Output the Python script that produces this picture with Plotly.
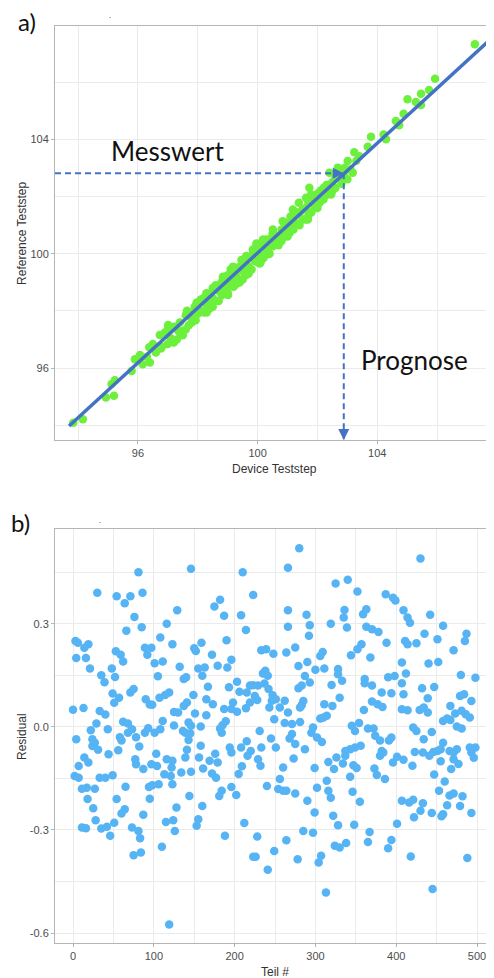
import plotly.graph_objects as go

# ---------------- Panel a: Device vs Reference ----------------
device = [
    93.84, 94.16, 94.93, 95.2, 95.12, 95.23, 95.79, 95.9, 96.16, 96.07,
    96.38, 96.77, 96.73, 97.01, 97.18, 97.34, 97.64, 97.96, 97.93, 98.4,
    98.29, 98.57, 98.84, 99.01, 99.18, 99.18, 99.46, 99.62, 99.84, 100.07,
    99.96,
    107.26, 105.93, 105.73, 105.46, 105.01, 105.29, 105.46, 104.88, 104.62, 104.73,
    103.79, 104.21, 104.29, 103.68, 103.23, 103.4, 103.01, 103.18, 102.68, 102.4,
    102.84, 102.46, 102.07, 101.73, 101.79, 101.62, 101.68, 101.38, 101.18, 100.84,
    101.07, 100.51, 100.46, 100.18, 99.84, 99.62, 100.07, 100.34, 100.73,
    96.5, 96.6, 96.9, 97.0, 97.1, 97.2, 97.3, 97.4, 97.5, 97.5,
    97.6, 97.7, 97.8, 97.8, 97.9, 98.0, 98.0, 98.1, 98.2, 98.2,
    98.3, 98.4, 98.4, 98.5, 98.6, 98.6, 98.7, 98.8, 98.8, 98.9,
    99.0, 99.0, 99.1, 99.2, 99.2, 99.3, 99.4, 99.4, 99.5, 99.6,
    99.6, 99.7, 99.8, 99.8, 99.9, 100.0, 100.0, 100.1, 100.2, 100.2,
    100.3, 100.4, 100.5, 100.6, 100.6, 100.7, 100.8, 100.9, 101.0, 101.0,
    101.1, 101.2, 101.3, 101.4, 101.5, 101.6, 101.7, 101.8, 101.9, 102.0,
    102.1, 102.2, 102.3, 102.5, 102.6, 102.7, 102.9, 103.0,
    96.3, 96.4, 96.8, 97.0, 97.2, 97.4, 97.6, 97.7, 97.9, 98.1,
    98.3, 98.5, 98.5, 98.7, 98.9, 99.0, 99.1, 99.3, 99.5, 99.5,
    99.7, 99.9, 100.1, 100.3, 100.4, 100.5, 100.7, 100.8, 100.9, 101.0,
    101.1, 101.2, 101.3, 101.4, 101.5, 101.6, 101.7, 101.8, 101.9, 102.0,
    102.1, 102.2, 102.3, 102.4, 102.5, 102.6, 102.8, 102.9, 103.1, 103.3,
]
reference = [
    94.09, 94.22, 94.98, 95.04, 95.45, 95.58, 95.9, 96.31, 96.14, 96.46,
    96.73, 96.69, 97.16, 97.51, 96.98, 97.33, 98.01, 98.29, 97.68, 98.09,
    98.62, 98.85, 99.2, 98.56, 98.96, 99.55, 99.78, 99.31, 100.01, 99.66,
    100.36,
    107.32, 106.12, 105.72, 105.59, 105.4, 105.3, 105.2, 104.89, 104.64, 104.49,
    104.09, 104.17, 104.0, 103.74, 103.55, 103.41, 103.24, 102.83, 103.01, 102.83,
    102.66, 102.07, 101.78, 102.31, 102.07, 101.96, 101.2, 101.78, 101.55, 101.14,
    100.73, 100.85, 100.27, 100.5, 100.15, 99.92, 99.8, 99.98, 100.62,
    96.85, 96.55, 97.25, 96.85, 97.05, 97.45, 97.0, 97.6, 97.3, 97.15,
    97.85, 97.5, 97.75, 97.6, 98.15, 97.9, 98.3, 98.0, 98.45, 97.95,
    98.2, 98.6, 98.3, 98.45, 98.9, 98.35, 98.7, 98.55, 99.0, 98.8,
    99.25, 98.9, 99.1, 98.85, 99.35, 99.2, 99.55, 99.0, 99.4, 99.7,
    99.25, 99.55, 99.9, 99.45, 99.75, 100.2, 99.7, 99.95, 100.3, 99.85,
    100.1, 100.5, 100.25, 100.65, 100.35, 100.5, 100.85, 100.6, 101.05, 100.75,
    100.95, 101.25, 101.05, 101.4, 101.2, 101.6, 101.35, 101.9, 101.65, 102.1,
    101.85, 102.3, 102.05, 102.5, 102.3, 102.7, 102.85, 102.6,
    96.4, 96.2, 96.75, 97.35, 96.9, 97.25, 97.35, 97.95, 97.7, 98.4,
    97.95, 98.8, 98.15, 98.35, 99.15, 98.65, 99.45, 98.95, 99.75, 99.1,
    99.3, 100.1, 99.7, 100.5, 100.0, 100.7, 100.3, 100.45, 101.1, 100.6,
    101.3, 100.85, 101.45, 101.0, 101.55, 101.2, 101.8, 101.45, 102.0, 101.6,
    102.2, 101.9, 102.4, 102.1, 102.2, 102.65, 102.45, 103.0, 102.95, 103.25,
]
fit_device = [93.7, 108.2]
fit_reference = [93.98, 107.9]
arrow_device = 102.88
arrow_reference = 102.81
a_ticks = [96, 100, 104]
a_tick_text = ["96", "100", "104"]
a_minor = [94, 98, 102, 106]

# ---------------- Panel b: Residuals ----------------
teil = [
    81, 30, 54, 71, 86, 64, 76, 85, 66, 116,
    108, 3, 6, 19, 14, 4, 16, 21, 53, 59,
    62, 89, 97, 92, 101, 111, 123, 105, 35, 39,
    48, 52, 49, 57, 51, 71, 75, 90, 98, 95,
    107, 114, 119, 125, 0, 13, 33, 40, 29, 22,
    43, 62, 68, 73, 68, 78, 89, 93, 101, 108,
    111, 125, 4, 58, 60, 24, 27, 24, 31, 44,
    56, 82, 103, 77, 78, 87, 97, 104, 116, 123,
    122, 14, 19, 7, 2, 7, 33, 40, 49, 113,
    121, 123, 11, 17, 27, 65, 94, 98, 106, 18,
    54, 25, 64, 60, 95, 87, 28, 35, 42, 46,
    51, 11, 16, 73, 81, 83, 75, 84, 110, 115,
    124, 126, 119,
    146, 210, 223, 182, 175, 187, 129, 208, 214, 159,
    150, 152, 172, 190, 196, 191, 179, 132, 155, 163,
    160, 137, 140, 167, 149, 165, 173, 193, 203, 233,
    239, 248, 238, 241, 235, 206, 219, 223, 229, 237,
    215, 225, 219, 228, 242, 247, 251, 246, 243, 256,
    262, 266, 198, 196, 187, 203, 214, 130, 137, 141,
    151, 165, 143, 146, 136, 139, 145, 158, 143, 185,
    182, 189, 184, 231, 249, 245, 251, 262, 268, 158,
    141, 139, 156, 176, 179, 169, 161, 194, 196, 208,
    215, 220, 216, 233, 229, 232, 209, 205, 134, 146,
    172, 177, 184, 181, 196, 202, 240, 256, 254, 260,
    264, 260, 144, 160, 128, 155, 153, 188, 212, 228,
    223, 226, 249, 241, 264,
    280, 266, 325, 340, 352, 387, 396, 399, 266, 289,
    293, 266, 292, 319, 336, 335, 339, 359, 363, 363,
    370, 378, 388, 275, 264, 279, 290, 306, 309, 300,
    311, 328, 328, 333, 344, 352, 357, 368, 287, 293,
    279, 283, 320, 330, 361, 361, 370, 382, 394, 390,
    398, 370, 377, 383, 360, 283, 285, 281, 311, 321,
    306, 310, 314, 271, 281, 297, 295, 271, 275, 302,
    308, 287, 273, 345, 349, 354, 356, 349, 343, 337,
    337, 334, 326, 316, 323, 347, 351, 343, 365, 372,
    374, 380, 391, 394, 382, 380, 384, 396, 401, 373,
    376, 386, 299, 302, 314, 316, 319, 275, 290, 299,
    346, 355, 322, 328, 348, 401, 285, 297, 324, 330,
    338, 367, 365, 394, 390, 278, 307, 304, 313,
    430, 409, 414, 417, 442, 458, 435, 451, 487, 485,
    471, 411, 414, 425, 407, 440, 452, 412, 480, 498,
    407, 432, 447, 409, 439, 479, 484, 493, 407, 414,
    429, 434, 439, 467, 458, 463, 467, 473, 481, 486,
    491, 475, 481, 421, 425, 434, 444, 458, 423, 433,
    441, 446, 451, 455, 455, 466, 471, 475, 471, 477,
    491, 498, 493, 496, 409, 420, 447, 460, 468, 453,
    466, 471, 482, 407, 416, 421, 433, 463, 479, 430,
    444, 458, 456, 422, 493, 418, 488, 445,
]
residual = [
    0.45, 0.39, 0.38, 0.38, 0.39, 0.36, 0.32, 0.29, 0.28, 0.30,
    0.26, 0.25, 0.245, 0.24, 0.23, 0.20, 0.20, 0.17, 0.22, 0.21,
    0.19, 0.23, 0.23, 0.21, 0.185, 0.19, 0.24, 0.147, 0.15, 0.13,
    0.17, 0.145, 0.097, 0.085, 0.07, 0.10, 0.11, 0.08, 0.064, 0.065,
    0.085, 0.093, 0.10, 0.043, 0.05, 0.055, 0.046, 0.036, 0.01, -0.01,
    -0.007, 0.015, 0.01, -0.007, -0.017, -0.03, -0.017, -0.004, -0.017, -0.007,
    0.017, 0.004, -0.036, -0.03, -0.04, -0.036, -0.046, -0.056, -0.067, -0.08,
    -0.068, -0.057, -0.078, -0.094, -0.109, -0.123, -0.109, -0.114, -0.094, -0.099,
    -0.118, -0.089, -0.104, -0.114, -0.143, -0.148, -0.148, -0.148, -0.141, -0.138,
    -0.143, -0.167, -0.18, -0.177, -0.18, -0.174, -0.175, -0.17, -0.167, -0.21,
    -0.21, -0.237, -0.24, -0.252, -0.209, -0.256, -0.272, -0.296, -0.291, -0.317,
    -0.279, -0.293, -0.295, -0.293, -0.303, -0.324, -0.374, -0.366, -0.349, -0.277,
    -0.272, -0.303, -0.575,
    0.46, 0.45, 0.384, 0.37, 0.35, 0.323, 0.339, 0.325, 0.282, 0.245,
    0.229, 0.221, 0.21, 0.252, 0.195, 0.173, 0.178, 0.175, 0.17, 0.173,
    0.149, 0.139, 0.144, 0.117, 0.093, 0.08, 0.066, 0.115, 0.131, 0.223,
    0.226, 0.213, 0.163, 0.149, 0.155, 0.102, 0.12, 0.121, 0.12, 0.126,
    0.10, 0.09, 0.071, 0.078, 0.11, 0.092, 0.08, 0.076, 0.056, 0.056,
    0.076, 0.042, 0.071, 0.052, 0.052, 0.044, 0.054, 0.042, 0.061, 0.071,
    0.039, 0.034, 0.013, 0.003, -0.012, -0.017, -0.019, 0.001, -0.038, 0.005,
    -0.005, 0.016, -0.017, -0.012, 0.022, -0.034, -0.06, 0.011, -0.034, -0.055,
    -0.067, -0.089, -0.089, -0.078, -0.104, -0.099, -0.121, -0.06, -0.075, -0.06,
    -0.042, -0.07, -0.084, -0.06, -0.094, -0.113, -0.115, -0.137, -0.133, -0.131,
    -0.136, -0.148, -0.186, -0.201, -0.175, -0.198, -0.172, -0.152, -0.181, -0.186,
    -0.186, -0.118, -0.201, -0.23, -0.235, -0.269, -0.288, -0.317, -0.28, -0.319,
    -0.378, -0.378, -0.361, -0.416, -0.33,
    0.52, 0.463, 0.417, 0.428, 0.394, 0.386, 0.376, 0.368, 0.339, 0.326,
    0.296, 0.291, 0.265, 0.30, 0.34, 0.318, 0.289, 0.328, 0.342, 0.291,
    0.284, 0.276, 0.245, 0.231, 0.216, 0.177, 0.189, 0.206, 0.218, 0.166,
    0.17, 0.168, 0.153, 0.134, 0.208, 0.226, 0.24, 0.202, 0.148, 0.129,
    0.112, 0.12, 0.122, 0.085, 0.139, 0.127, 0.12, 0.10, 0.098, 0.144,
    0.148, 0.074, 0.066, 0.058, 0.049, 0.063, 0.075, 0.056, 0.066, 0.061,
    0.024, 0.027, 0.032, 0.008, 0.014, -0.002, -0.017, -0.021, -0.05, -0.031,
    -0.044, -0.065, -0.092, 0.003, -0.012, 0.011, -0.055, -0.06, -0.065, -0.07,
    -0.084, -0.107, -0.089, -0.102, -0.123, -0.112, -0.12, -0.145, -0.005, -0.005,
    -0.026, -0.04, -0.04, -0.031, -0.07, -0.084, -0.075, -0.104, -0.087, -0.121,
    -0.14, -0.152, -0.12, -0.177, -0.157, -0.186, -0.206, -0.194, -0.215, -0.249,
    -0.189, -0.218, -0.259, -0.286, -0.285, -0.282, -0.303, -0.308, -0.346, -0.351,
    -0.338, -0.306, -0.335, -0.329, -0.353, -0.385, -0.375, -0.395, -0.482,
    0.49, 0.339, 0.318, 0.303, 0.326, 0.294, 0.271, 0.255, 0.271, 0.25,
    0.223, 0.25, 0.24, 0.243, 0.187, 0.184, 0.189, 0.155, 0.151, 0.143,
    0.127, 0.112, 0.116, 0.095, 0.083, 0.09, 0.095, 0.075, 0.051, 0.048,
    0.049, 0.056, 0.042, 0.061, 0.017, 0.024, 0.02, 0.039, 0.047, 0.037,
    0.027, 0.001, -0.005, -0.002, -0.012, -0.036, -0.015, -0.046, -0.073, -0.075,
    -0.084, -0.073, -0.07, -0.065, -0.1, -0.07, -0.075, -0.065, -0.094, -0.108,
    -0.06, -0.06, -0.075, -0.09, -0.096, -0.113, -0.139, -0.159, -0.123, -0.186,
    -0.2, -0.194, -0.202, -0.215, -0.22, -0.212, -0.222, -0.228, -0.23, -0.244,
    -0.251, -0.254, -0.26, -0.263, -0.251, -0.377, -0.382, -0.472,
]
b_ticks = [0, 100, 200, 300, 400, 500]
b_tick_text = ["0", "100", "200", "300", "400", "500"]
b_minor = [50, 150, 250, 350, 450]
r_ticks = [-0.6, -0.3, 0.0, 0.3]
r_tick_text = ["-0.6", "-0.3", "0.0", "0.3"]
r_minor = [-0.45, -0.15, 0.15, 0.45]

# ---------------- Styling ----------------
GREEN = "#6CF03C"
LBLUE = "#56B4F5"
BLUE = "#4472C4"
GRID = "#EBEBEB"
AXLINE = "#B5B5B5"
TICKFONT = dict(family="Liberation Sans, Arial", size=11, color="#4D4D4D")
TITLEFONT = dict(family="Liberation Sans, Arial", size=12, color="#333333")
BIGFONT = dict(family="Lato, Noto Sans", size=26, color="#111111")

a_xrange = [93.23, 107.9]
a_yrange = [93.49, 107.96]

fig = go.Figure()

fig.add_trace(go.Scatter(x=device, y=reference, mode="markers",
                         marker=dict(color=GREEN, size=8.5, line=dict(width=0)),
                         xaxis="x", yaxis="y", hoverinfo="skip"))
fig.add_trace(go.Scatter(x=fit_device, y=fit_reference, mode="lines",
                         line=dict(color=BLUE, width=3.5),
                         xaxis="x", yaxis="y", hoverinfo="skip"))
# dashed guide lines
fig.add_trace(go.Scatter(x=[a_xrange[0], arrow_device], y=[arrow_reference, arrow_reference],
                         mode="lines", line=dict(color=BLUE, width=2, dash="6px,4px"),
                         xaxis="x", yaxis="y", hoverinfo="skip"))
fig.add_trace(go.Scatter(x=[arrow_device, arrow_device], y=[arrow_reference, a_yrange[0]],
                         mode="lines", line=dict(color=BLUE, width=2, dash="6px,4px"),
                         xaxis="x", yaxis="y", hoverinfo="skip"))

fig.add_trace(go.Scatter(x=teil, y=residual, mode="markers",
                         marker=dict(color=LBLUE, size=8.5, line=dict(width=0)),
                         xaxis="x2", yaxis="y2", hoverinfo="skip"))

annotations = [
    # arrowheads
    dict(x=arrow_device, y=arrow_reference, xref="x", yref="y", ax=-11, ay=0,
         text="", showarrow=True, arrowhead=2, arrowsize=1.1, arrowwidth=2,
         arrowcolor=BLUE, standoff=0),
    dict(x=arrow_device, y=a_yrange[0], xref="x", yref="y", ax=0, ay=-11,
         text="", showarrow=True, arrowhead=2, arrowsize=1.1, arrowwidth=2,
         arrowcolor=BLUE, standoff=0),
    dict(text="Messwert", x=0.256, y=0.8637, xref="paper", yref="paper",
         showarrow=False, font=BIGFONT, xanchor="center", yanchor="middle"),
    dict(text="Prognose", x=0.819, y=0.636, xref="paper", yref="paper",
         showarrow=False, font=BIGFONT, xanchor="center", yanchor="middle"),
    dict(text="a)", x=-0.064, y=1.0047, xref="paper", yref="paper",
         showarrow=False, font=dict(family="Lato, Noto Sans", size=24, color="#111111"),
         xanchor="center", yanchor="middle"),
    dict(text="b)", x=-0.0775, y=0.459, xref="paper", yref="paper",
         showarrow=False, font=dict(family="Lato, Noto Sans", size=24, color="#111111"),
         xanchor="center", yanchor="middle"),
    dict(text=".", x=0.125, y=1.012, xref="paper", yref="paper",
         showarrow=False, font=dict(size=8, color="#333"), xanchor="center", yanchor="middle"),
    dict(text=".", x=0.1025, y=0.462, xref="paper", yref="paper",
         showarrow=False, font=dict(size=8, color="#333"), xanchor="center", yanchor="middle"),
    dict(text="Device Teststep", x=0.5, y=0.5169, xref="paper", yref="paper",
         showarrow=False, font=TITLEFONT, xanchor="center", yanchor="middle"),
    dict(text="Reference Teststep", x=-0.0752, y=0.7743, xref="paper", yref="paper",
         showarrow=False, font=TITLEFONT, xanchor="center", yanchor="middle", textangle=-90),
    dict(text="Teil #", x=0.5, y=-0.0316, xref="paper", yref="paper",
         showarrow=False, font=TITLEFONT, xanchor="center", yanchor="middle"),
    dict(text="Residual", x=-0.0752, y=0.2257, xref="paper", yref="paper",
         showarrow=False, font=TITLEFONT, xanchor="center", yanchor="middle", textangle=-90),
]

common = dict(showgrid=True, gridcolor=GRID, gridwidth=1, zeroline=False,
              showline=True, linecolor=AXLINE, linewidth=1,
              ticks="outside", ticklen=3, tickcolor=AXLINE,
              tickfont=TICKFONT, automargin=False)

# the page body has an 8px margin, so the figure is shrunk by 8px on each side
fig.update_layout(
    width=486, height=970,
    margin=dict(l=47, r=0, t=18, b=35),
    paper_bgcolor="white", plot_bgcolor="white",
    showlegend=False,
    annotations=annotations,
    xaxis=dict(domain=[0, 1], anchor="y", range=a_xrange, tickvals=a_ticks, ticktext=a_tick_text,
               minor=dict(tickvals=a_minor, showgrid=True, gridcolor=GRID, ticks=""),
               mirror=True, **common),
    yaxis=dict(domain=[0.5485, 1], anchor="x", range=a_yrange, tickvals=a_ticks, ticktext=a_tick_text,
               minor=dict(tickvals=a_minor, showgrid=True, gridcolor=GRID, ticks=""),
               **common),
    xaxis2=dict(domain=[0, 1], anchor="y2", range=[-22.3, 521], tickvals=b_ticks, ticktext=b_tick_text,
                minor=dict(tickvals=b_minor, showgrid=True, gridcolor=GRID, ticks=""),
                mirror=True, **common),
    yaxis2=dict(domain=[0, 0.4512], anchor="x2", range=[-0.629, 0.575], tickvals=r_ticks, ticktext=r_tick_text,
                minor=dict(tickvals=r_minor, showgrid=True, gridcolor=GRID, ticks=""),
                **common),
)

fig.write_html("out.html")
